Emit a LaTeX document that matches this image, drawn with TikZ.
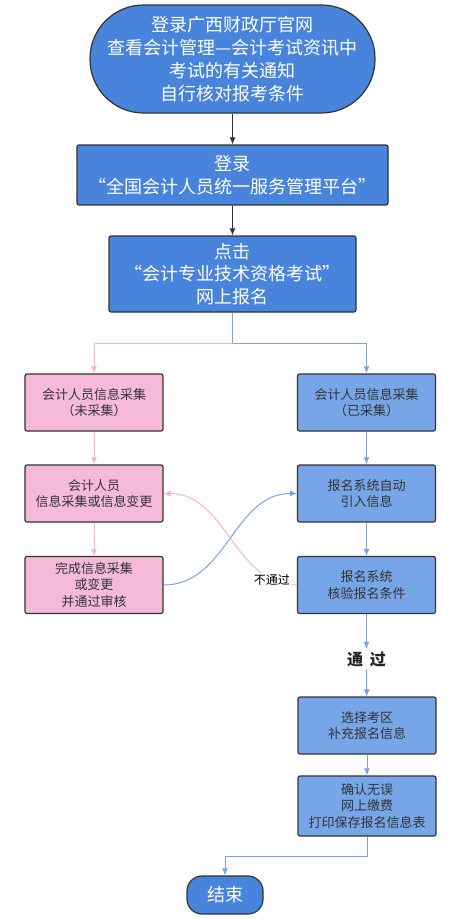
\documentclass[tikz,border=0pt]{standalone}
\usepackage{fontspec}
\setmainfont{Noto Sans CJK SC}
\usepackage{xcolor}
\usetikzlibrary{
	shapes.misc,
	arrows.meta,
	positioning,
	calc
}
\definecolor{darkblue}{RGB}{72,132,220}
\definecolor{lightblue}{RGB}{118,166,232}
\definecolor{pinkfill}{RGB}{245,186,218}
\definecolor{pinkline}{RGB}{245,178,214}
\definecolor{blueline}{RGB}{118,164,236}
\definecolor{edgegray}{RGB}{51,51,51}

\begin{document}
\begin{tikzpicture}[
        x=1pt, y=-1pt,
        >={Latex[length=7pt,width=6pt]},
        line width=1pt,
        % 定义起止节点样式 (Terminal style)
        term/.style={
            rectangle, draw=edgegray, line width=1.2pt,
            fill=darkblue, text=white,
            align=center, inner sep=0pt,
            font=\fontsize{18}{23}\selectfont
        },
        % 定义深蓝步骤框 (Main step box)
        mainbox/.style={
            rectangle, rounded corners=2pt,
            draw=edgegray, line width=1.2pt,
            fill=darkblue, text=white,
            align=center, inner sep=0pt,
            font=\fontsize{18}{22.5}\selectfont
        },
        % 粉色 / 浅蓝小框 (Small boxes)
        pinkbox/.style={
            rectangle, rounded corners=2pt,
            draw=edgegray, line width=1.2pt,
            fill=pinkfill, text=edgegray,
            align=center, inner sep=0pt,
            minimum width=138pt, minimum height=57pt,
            font=\fontsize{13}{16.5}\selectfont
        },
        bluebox/.style={pinkbox, fill=lightblue},
        % 连线颜色
        darkarrow/.style={->, draw=edgegray},
        pinkarrow/.style={->, draw=pinkline},
        bluearrow/.style={->, draw=blueline}
    ]

        \useasboundingbox (0,0) rectangle (460,919);

        % ====================
        % 上部主流程 (Top flow)
        % ====================

        \node[term, rounded corners=53.5pt, minimum width=285pt, minimum height=108pt] (Start) at (232.5, 59) {
            登录广西财政厅官网\\
            查看会计管理—会计考试资讯中\\
            考试的有关通知\\
            自行核对报考条件
        };

        \node[mainbox, minimum width=311pt, minimum height=60pt] (Login) at (232.5, 175) {登录\\“全国会计人员统一服务管理平台”};

        \node[mainbox, minimum width=247pt, minimum height=76pt] (Apply) at (232.5, 274) {点击\\“会计专业技术资格考试”\\网上报名};

        % ====================
        % 左列：未采集 (Left column)
        % ====================

        \node[pinkbox] (L1) at (94, 402.5) {会计人员信息采集\\（未采集）};
        \node[pinkbox] (L2) at (94, 493.5) {会计人员\\信息采集或信息变更};
        \node[pinkbox] (L3) at (94, 585) {完成信息采集\\或变更\\并通过审核};

        % ====================
        % 右列：已采集 (Right column)
        % ====================

        \node[bluebox] (R1) at (366.5, 402.5) {会计人员信息采集\\（已采集）};
        \node[bluebox] (R2) at (366.5, 493.5) {报名系统自动\\引入信息};
        \node[bluebox] (R3) at (366.5, 585) {报名系统\\核验报名条件};

        \node[font=\fontsize{16}{16}\selectfont\bfseries, text=black!85, inner sep=2pt] (Pass) at (366.5, 659) {通\hspace{7pt}过};

        \node[bluebox] (R4) at (367, 725.5) {选择考区\\补充报名信息};
        \node[bluebox, minimum height=60pt] (R5) at (367, 806) {确认无误\\网上缴费\\打印保存报名信息表};

        \node[term, rounded corners=15pt, minimum width=76pt, minimum height=38pt] (End) at (225, 895) {结束};

        % ====================
        % 连线 (Connections)
        % ====================

        \draw[darkarrow] (Start) -- (Login);
        \draw[darkarrow] (Login) -- (Apply);

        % 分叉点
        \coordinate (split) at (232.5, 343);
        \draw[draw=blueline] (Apply.south) -- (split);
        \draw[pinkarrow] (split) -| (L1.north);
        \draw[bluearrow] (split) -| (R1.north);

        \draw[pinkarrow] (L1) -- (L2);
        \draw[pinkarrow] (L2) -- (L3);
        \draw[bluearrow] (R1) -- (R2);
        \draw[bluearrow] (R2) -- (R3);

        % 交叉曲线
        \draw[bluearrow] (L3.east) to[out=0, in=180] (R2.west);
        \draw[pinkarrow] (R3.west) to[out=180, in=0]
            node[pos=0.15, fill=white, inner sep=1pt, text=black, font=\fontsize{12}{12}\selectfont] {不通过} (L2.east);

        \draw[bluearrow] (R3) -- (Pass);
        \draw[bluearrow] (Pass) -- (R4);
        \draw[bluearrow] (R4) -- (R5);
        \draw[bluearrow] (R5.south) -- ++(0,20) -| (End.north);

    \end{tikzpicture}
\end{document}
